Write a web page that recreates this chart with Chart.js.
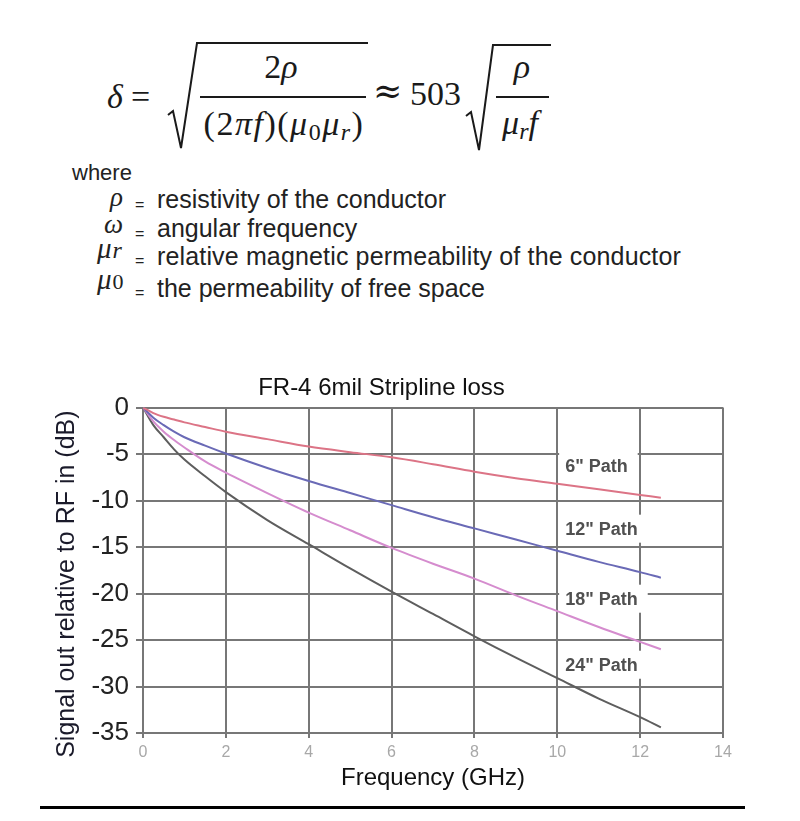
<!DOCTYPE html>
<html>
<head>
<meta charset="utf-8">
<script src="https://cdn.jsdelivr.net/npm/chart.js@4/dist/chart.umd.min.js"></script>
<style>
  html, body { margin:0; padding:0; background:#fff; }
  body { width:800px; height:821px; position:relative; overflow:hidden; }
  #formula { position:absolute; left:0; top:0; }
  #chartBox { position:absolute; left:40px; top:370px; width:720px; height:430px; }
  #rule { position:absolute; left:40px; top:806px; width:705px; height:3px; background:#000; }
</style>
</head>
<body>
<svg id="formula" width="800" height="330" xmlns="http://www.w3.org/2000/svg">
  <g fill="#1a1a1a" font-family="Liberation Serif, DejaVu Serif, serif" font-size="34">
    <text x="107" y="108" font-style="italic">δ</text>
    <text x="131" y="108">=</text>
    <text x="281" y="78" text-anchor="middle">2<tspan font-style="italic">ρ</tspan></text>
    <text x="284" y="135" text-anchor="middle" letter-spacing="1.5">(2<tspan font-style="italic">πf</tspan>)(<tspan font-style="italic">μ</tspan><tspan font-size="24" dy="5">0</tspan><tspan font-style="italic" dy="-5">μ</tspan><tspan font-style="italic" font-size="24" dy="5">r</tspan><tspan dy="-5">)</tspan></text>
    <text x="373" y="103" font-family="DejaVu Serif, serif" font-size="35">≈</text>
    <text x="410" y="105">503</text>
    <text x="522" y="78" text-anchor="middle" font-style="italic">ρ</text>
    <text x="520" y="134" text-anchor="middle"><tspan font-style="italic">μ</tspan><tspan font-style="italic" font-size="24" dy="5">r</tspan><tspan font-style="italic" dy="-5">f</tspan></text>
  </g>
  <g fill="none" stroke="#1a1a1a" stroke-linejoin="miter">
    <path d="M168,115 L173,111 L181,148 L197,43 L368,43" stroke-width="2"/>
    <line x1="200" y1="97" x2="366" y2="97" stroke-width="2"/>
    <path d="M466,116 L471,112 L479,150 L493,45 L551,45" stroke-width="2"/>
    <line x1="496" y1="97" x2="549" y2="97" stroke-width="2"/>
  </g>
  <g fill="#222" font-family="Liberation Sans, Arial, sans-serif">
    <text x="72" y="180" font-size="22">where</text>
    <text x="110" y="206" font-size="27" font-style="italic" font-family="Liberation Serif, serif">ρ</text>
    <text x="135" y="210" font-size="16">=</text>
    <text x="157" y="208" font-size="25">resistivity of the conductor</text>
    <text x="104" y="233" font-size="27" font-style="italic" font-family="Liberation Serif, serif">ω</text>
    <text x="135" y="239" font-size="16">=</text>
    <text x="157" y="237" font-size="25">angular frequency</text>
    <text x="97" y="258" font-size="29" font-style="italic" font-family="Liberation Serif, serif">μ<tspan font-size="24" dx="1">r</tspan></text>
    <text x="135" y="266" font-size="16">=</text>
    <text x="157" y="265" font-size="25" letter-spacing="0.15">relative magnetic permeability of the conductor</text>
    <text x="97" y="289" font-size="29" font-family="Liberation Serif, serif"><tspan font-style="italic">μ</tspan><tspan font-size="22" dx="1">0</tspan></text>
    <text x="135" y="298" font-size="16">=</text>
    <text x="157" y="297" font-size="25">the permeability of free space</text>
  </g>
</svg>

<div id="chartBox"><canvas id="c" width="720" height="430"></canvas></div>
<div id="rule"></div>

<script>
// ---- data ----
const freqGHz  = [0, 0.25, 0.5, 0.75, 1, 1.5, 2, 3, 4, 5, 6, 7, 8, 9, 10, 11, 12, 12.5];
const path6in  = [0, -0.6, -1.0, -1.3, -1.6, -2.1, -2.6, -3.4, -4.2, -4.8, -5.35, -6.1, -6.9, -7.6, -8.2, -8.8, -9.4, -9.7];
const path12in = [0, -1.1, -1.9, -2.6, -3.2, -4.1, -4.95, -6.5, -7.9, -9.2, -10.5, -11.8, -13.0, -14.2, -15.4, -16.6, -17.7, -18.3];
const path18in = [0, -1.5, -2.6, -3.5, -4.3, -5.8, -7.0, -9.2, -11.3, -13.2, -15.1, -16.8, -18.4, -20.2, -21.9, -23.6, -25.2, -26.0];
const path24in = [0, -1.9, -3.2, -4.5, -5.6, -7.4, -9.1, -12.1, -14.7, -17.3, -19.8, -22.2, -24.6, -26.9, -29.1, -31.3, -33.3, -34.4];
const seriesNames = ['6" Path', '12" Path', '18" Path', '24" Path'];
const xTickValues = [0, 2, 4, 6, 8, 10, 12, 14];
const xTickLabels = ['0', '2', '4', '6', '8', '10', '12', '14'];
const yTickValues = [0, -5, -10, -15, -20, -25, -30, -35];
const yTickLabels = ['0', '-5', '-10', '-15', '-20', '-25', '-30', '-35'];

const FONT = 'Liberation Sans, Arial, sans-serif';
const GRID = '#777777';
const colors = ['#dc7486', '#6a6ab6', '#d58cce', '#5e5e5e'];
const allSeries = [path6in, path12in, path18in, path24in];

// label anchors in data units (left x, centre y)
const labelAnchors = { x: 10.19, y: [-6.29, -13.03, -20.56, -27.66] };

const pathLabels = {
  id: 'pathLabels',
  beforeDatasetsDraw(chart) {
    const { ctx, scales: { x, y } } = chart;
    ctx.save();
    ctx.font = 'bold 18px ' + FONT;
    ctx.textBaseline = 'middle';
    ctx.textAlign = 'left';
    seriesNames.forEach((name, i) => {
      const px = x.getPixelForValue(labelAnchors.x);
      const py = y.getPixelForValue(labelAnchors.y[i]);
      const w = ctx.measureText(name).width;
      ctx.fillStyle = '#ffffff';
      ctx.fillRect(px - 6, py - 14, w + 16, 28);
      ctx.fillStyle = '#505050';
      ctx.fillText(name, px, py + 1);
    });
    ctx.restore();
  }
};

new Chart(document.getElementById('c'), {
  type: 'line',
  data: {
    datasets: allSeries.map((s, i) => ({
      label: seriesNames[i],
      data: freqGHz.map((f, j) => ({ x: f, y: s[j] })),
      borderColor: colors[i],
      borderWidth: 2,
      pointRadius: 0,
      fill: false,
      tension: 0.4,
      cubicInterpolationMode: 'monotone'
    }))
  },
  options: {
    responsive: false,
    animation: false,
    layout: { padding: { left: 0, right: 37, top: 0, bottom: 0 } },
    plugins: {
      legend: { display: false },
      tooltip: { enabled: false },
      title: {
        display: true,
        text: 'FR-4 6mil Stripline loss',
        color: '#111',
        font: { family: FONT, size: 24, weight: 'normal' },
        padding: { top: 4, bottom: 4.7 }
      }
    },
    scales: {
      x: {
        type: 'linear',
        min: 0, max: 14,
        afterBuildTicks(s) { s.ticks = xTickValues.map(v => ({ value: v })); },
        ticks: {
          color: '#a8a8a8',
          font: { family: FONT, size: 16 },
          padding: 5,
          maxRotation: 0,
          callback: (v) => xTickLabels[xTickValues.indexOf(v)]
        },
        grid: { color: GRID, lineWidth: 2, tickLength: 5 },
        border: { color: GRID, width: 2 },
        title: {
          display: true,
          text: 'Frequency (GHz)',
          color: '#111',
          font: { family: FONT, size: 24 },
          padding: { top: 0, bottom: 7.6 }
        },
        afterFit(s) { s.height = 67; }
      },
      y: {
        type: 'linear',
        min: -35, max: 0,
        afterBuildTicks(s) { s.ticks = yTickValues.slice().reverse().map(v => ({ value: v })); },
        ticks: {
          color: '#222',
          font: { family: FONT, size: 26 },
          padding: 7,
          callback: (v) => yTickLabels[yTickValues.indexOf(v)]
        },
        grid: { color: GRID, lineWidth: 2, tickLength: 7 },
        border: { color: GRID, width: 2 },
        title: {
          display: true,
          text: 'Signal out relative to RF in (dB)\u00a0\u00a0\u00a0\u00a0',
          color: '#1a1a2a',
          font: { family: FONT, size: 25 },
          padding: { top: 12, bottom: 0 }
        },
        afterFit(s) { s.width = 103; }
      }
    }
  },
  plugins: [pathLabels]
});
</script>
</body>
</html>
